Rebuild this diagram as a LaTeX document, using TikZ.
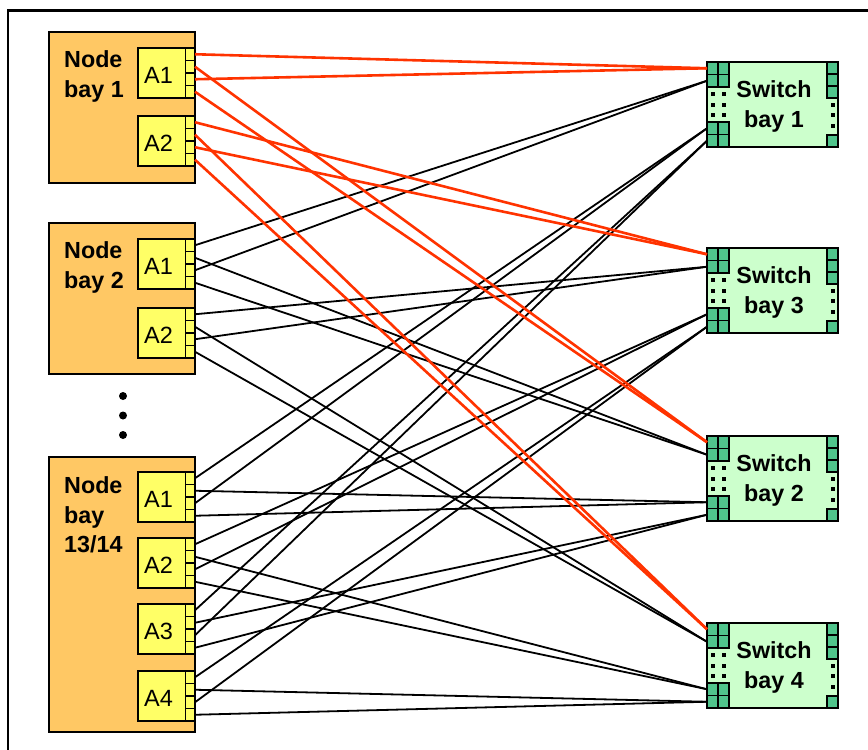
\documentclass[tikz,border=0pt]{standalone}
\usepackage{fontspec}
\setmainfont{Liberation Sans}
\definecolor{bayfill}{RGB}{255,200,100}
\definecolor{cardfill}{RGB}{255,255,102}
\definecolor{swfill}{RGB}{204,255,204}
\definecolor{portgreen}{RGB}{80,196,140}
\definecolor{redline}{RGB}{255,51,0}
\tikzset{
  baybox/.style={draw=black, line width=1.6pt, fill=bayfill, rectangle, inner sep=0pt, outer sep=0pt, anchor=north west},
  cardbox/.style={draw=black, line width=1.6pt, fill=cardfill, rectangle, inner sep=0pt, outer sep=0pt, anchor=north west, minimum width=57pt, minimum height=50pt},
  nport/.style={draw=black, line width=1.2pt, fill=cardfill},
  swbox/.style={draw=black, line width=1.6pt, fill=swfill, rectangle, inner sep=0pt, outer sep=0pt, anchor=north west, minimum width=131pt, minimum height=85pt},
  sport/.style={draw=black, line width=1.2pt, fill=portgreen},
  baylabel/.style={anchor=north west, inner sep=0pt, align=left, font=\fontsize{23.3}{29.7}\selectfont\bfseries},
  swlabel/.style={anchor=north, inner sep=0pt, align=center, font=\fontsize{23.3}{30.3}\selectfont\bfseries},
  cardlabel/.style={inner sep=0pt, font=\fontsize{23.5}{27}\selectfont},
  blk/.style={line width=1.8pt, black},
  redconn/.style={line width=2.6pt, redline},
}
\newcommand\mkcard[3]{%
  \node[cardbox] (#1) at (138,#2) {};
  \foreach \i in {0,...,3} {\draw[nport] (185.5,#2+12.5*\i) rectangle (195,#2+12.5*\i+12.5);}
  \node[cardlabel] (#1lbl) at (158.5,#2+27) {#3};
  \foreach \i in {1,...,4} {\coordinate (#1p\i) at (195,#2+12.5*\i-6.25);}
}
\newcommand\mkswitch[3]{%
  \node[swbox] (#1) at (707,#2) {};
  \foreach \c in {0,1} {\foreach \r in {0,1} {
    \draw[sport] (707+11*\c,#2+12.5*\r) rectangle (718+11*\c,#2+12.5*\r+12.5);
    \draw[sport] (707+11*\c,#2+60+12.5*\r) rectangle (718+11*\c,#2+60+12.5*\r+12.5);
  }}
  \foreach \r in {0,1,2} {\draw[sport] (827,#2+12*\r) rectangle (838,#2+12*\r+12);}
  \draw[sport] (827,#2+73) rectangle (838,#2+85);
  \foreach \yy in {32,42.5,53} {\foreach \xx in {712.5,723.5} {\fill[black] (\xx-2,#2+\yy-2) rectangle (\xx+2,#2+\yy+2);}}
  \foreach \yy in {42.5,53,63.5} {\fill[black] (830.5,#2+\yy-2) rectangle (834.5,#2+\yy+2);}
  \node[swlabel] (#1lbl) at (774,#2+18.5) {Switch\\bay #3};
  \coordinate (#1r1) at (707,#2+6.25);
  \coordinate (#1r2) at (707,#2+18.75);
  \coordinate (#1r3) at (707,#2+66.25);
  \coordinate (#1r4) at (707,#2+78.75);
}
\begin{document}
\begin{tikzpicture}[x=1pt,y=-1pt]
\useasboundingbox (0,0) rectangle (868,750);
\fill[white] (0,0) rectangle (868,750);
\draw[line width=2.2pt] (8.3,752) -- (8.3,10.5) -- (870,10.5);
% node bays
\node[baybox, minimum width=146pt, minimum height=151pt] (bay1) at (49,32) {};
\node[baylabel] (bay1lbl) at (64,50.5) {Node\\bay 1};
\mkcard{b1a1}{48}{A1}
\mkcard{b1a2}{116}{A2}
\node[baybox, minimum width=146pt, minimum height=151pt] (bay2) at (49,223) {};
\node[baylabel] (bay2lbl) at (64,241.5) {Node\\bay 2};
\mkcard{b2a1}{239}{A1}
\mkcard{b2a2}{308}{A2}
\node[baybox, minimum width=146pt, minimum height=275pt] (bay13) at (49,457) {};
\node[baylabel] (bay13lbl) at (64,476.5) {Node\\bay\\13/14};
\mkcard{b13a1}{472}{A1}
\mkcard{b13a2}{538}{A2}
\mkcard{b13a3}{604}{A3}
\mkcard{b13a4}{671}{A4}
\foreach \yy/\nm in {396/d1,415.5/d2,435/d3} {\fill[black] (123,\yy) circle (4pt) coordinate (\nm);}
% switches
\mkswitch{s1}{62}{1}
\mkswitch{s3}{248}{3}
\mkswitch{s2}{436}{2}
\mkswitch{s4}{623}{4}
% black connections
\foreach \a/\b in {b2a1p1/s1r2,b2a1p3/s1r2,b2a1p2/s2r2,b2a1p4/s2r2,
  b2a2p1/s3r2,b2a2p3/s3r2,b2a2p2/s4r2,b2a2p4/s4r2,
  b13a1p1/s1r3,b13a1p3/s1r3,b13a1p2/s2r3,b13a1p4/s2r3,
  b13a2p1/s3r3,b13a2p3/s3r3,b13a2p2/s4r3,b13a2p4/s4r3,
  b13a3p1/s1r4,b13a3p3/s1r4,b13a3p2/s2r4,b13a3p4/s2r4,
  b13a4p1/s3r4,b13a4p3/s3r4,b13a4p2/s4r4,b13a4p4/s4r4}
  {\draw[blk] (\a) -- (\b);}
% red connections
\foreach \a/\b in {b1a1p1/s1r1,b1a1p3/s1r1,b1a1p2/s2r1,b1a1p4/s2r1,
  b1a2p1/s3r1,b1a2p3/s3r1,b1a2p2/s4r1,b1a2p4/s4r1}
  {\draw[redconn] (\a) -- (\b);}
\end{tikzpicture}
\end{document}
